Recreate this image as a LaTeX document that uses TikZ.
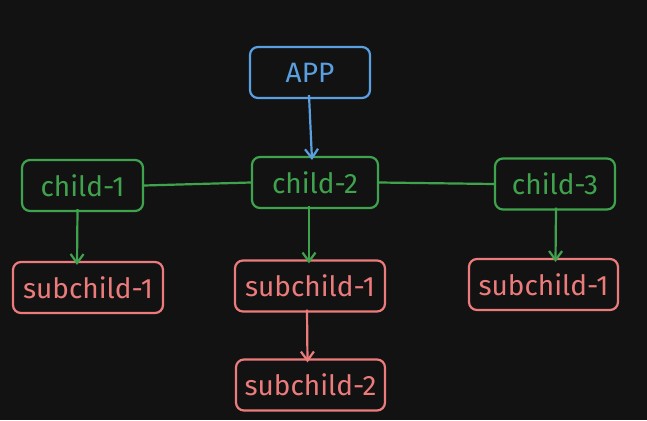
\documentclass[tikz,border=0pt]{standalone}
\usepackage{fontspec}
\setmainfont{Fira Sans}
\usetikzlibrary{arrows.meta}
\definecolor{bg}{HTML}{121212}
\definecolor{cblue}{HTML}{5A9FE0}
\definecolor{cgreen}{HTML}{3FA34D}
\definecolor{cred}{HTML}{EC7B7B}
\tikzset{
  box/.style={draw, rounded corners=8pt, line width=2.2pt, inner sep=0pt, font=\fontsize{28}{30}\selectfont},
  bluebox/.style={box, draw=cblue, text=cblue, minimum width=120pt, minimum height=51pt},
  greenbox/.style={box, draw=cgreen, text=cgreen, minimum width=122pt, minimum height=51pt},
  redbox/.style={box, draw=cred, text=cred, minimum width=150pt, minimum height=51pt},
  conn/.style={line width=2.2pt},
  arr/.style={line width=2.2pt, -{Straight Barb[length=9pt,width=13pt,line width=2.2pt]}},
}
\begin{document}
\begin{tikzpicture}[x=1pt,y=-1pt]
\fill[bg] (0,0) rectangle (647,420);
\useasboundingbox (0,0) rectangle (647,420);
\node[bluebox] (app) at (310,72.5) {APP};
\node[greenbox, minimum width=121pt] (c1) at (82.5,185.5) {child-1};
\node[greenbox, minimum width=126pt] (c2) at (315,182.5) {child-2};
\node[greenbox, minimum width=120pt] (c3) at (555,184) {child-3};
\node[redbox] (s1) at (88,287.5) {subchild-1};
\node[redbox] (s2) at (310,286) {subchild-1};
\node[redbox, minimum width=149pt] (s3) at (543.5,284.5) {subchild-1};
\node[redbox, minimum width=149pt] (s4) at (310.5,385) {subchild-2};
\draw[conn, cgreen] (c1.east) -- (c2.west);
\draw[conn, cgreen] (c2.east) -- (c3.west);
\draw[arr, cblue] ([xshift=-1pt,yshift=4pt]app.south) -- ([xshift=-3pt,yshift=-4pt]c2.north);
\draw[arr, cgreen] ([xshift=-5pt,yshift=3pt]c1.south) -- ([xshift=-11pt,yshift=-4pt]s1.north);
\draw[arr, cgreen] ([xshift=-6pt,yshift=3pt]c2.south) -- ([xshift=-1pt,yshift=-4pt]s2.north);
\draw[arr, cgreen] ([xshift=1pt,yshift=3pt]c3.south) -- ([xshift=12pt,yshift=-4pt]s3.north);
\draw[arr, cred] ([xshift=-3pt,yshift=3pt]s2.south) -- ([xshift=-3pt,yshift=-4pt]s4.north);
\end{tikzpicture}
\end{document}
